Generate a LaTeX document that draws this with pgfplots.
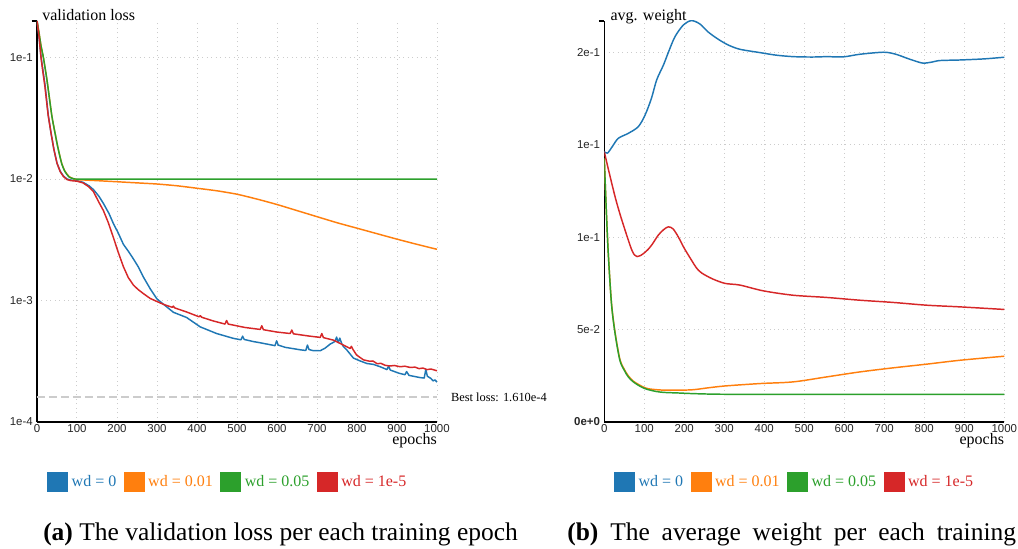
\documentclass[border=0pt]{standalone}
\usepackage{fontspec}
\setmainfont{Liberation Serif}
\newfontfamily\tickfont{Liberation Sans}
\usepackage{pgfplots}
\pgfplotsset{compat=1.18}

\definecolor{c0}{HTML}{1F77B4}
\definecolor{c1}{HTML}{FF7F0E}
\definecolor{c2}{HTML}{2CA02C}
\definecolor{c3}{HTML}{D62728}
\definecolor{gridc}{HTML}{CCCCCC}

\pgfplotsset{
  panel/.style={
    scale only axis,
    width=300pt, height=300.75pt,
    anchor=south west,
    xmin=0, xmax=1000,
    xtick={0,100,200,300,400,500,600,700,800,900,1000},
    xticklabels={0,100,200,300,400,500,600,700,800,900,1000},
    axis x line*=bottom, axis y line*=left,
    axis line style={line width=1pt, black, -},
    major tick length=0pt, minor tick length=0pt,
    xmajorgrids, ymajorgrids,
    grid style={line width=0.75pt, gridc, dash pattern=on 0.75pt off 2.6pt},
    minor grid style={line width=0.75pt, gridc, dash pattern=on 0.75pt off 2.6pt},
    tick label style={font=\tickfont\fontsize{8.6}{10}\selectfont, text=black!85},
    xticklabel style={inner sep=1.5pt},
    yticklabel style={inner sep=3pt},
    extra y tick labels={},
    extra y tick style={grid=none, major tick length=4pt, tick align=outside,
      major tick style={black, line width=1pt}},
    clip mode=individual,
    every axis plot/.append style={line width=1.1pt, line join=round},
    legend columns=4,
    legend style={draw=none, fill=none, inner sep=0pt, column sep=0pt,
      font=\fontsize{12}{14}\selectfont,
      nodes={inner xsep=2.6pt, inner ysep=0pt},
      /tikz/every even column/.append style={column sep=3pt}},
    legend image code/.code={\fill[#1, draw=none] (0pt,-7.5pt) rectangle (15.75pt,7.5pt);},
  },
}

\begin{document}
\begin{tikzpicture}[x=0.75pt,y=0.75pt]
\useasboundingbox (0,0) rectangle (1018,549);

% ---------------- validation loss ----------------
\begin{axis}[panel,
  at={(27.75pt,95.25pt)},
  ymode=log, log basis y=10,
  ymin=1e-4, ymax=0.2,
  ytick={1e-4,1e-3,1e-2,1e-1},
  yticklabels={1e-4,1e-3,1e-2,1e-1},
  extra y ticks={0.2},
  yminorgrids,
  legend style={at={(axis description cs:0.025,-0.149)}, anchor=west},
]
\addplot[c0] coordinates {
(0,0.2)(5,0.15)(10,0.102)(15,0.078)(20,0.06)(28,0.034)(35,0.024)(42,0.0177)
(50,0.0135)(58,0.0116)(66,0.0106)(75,0.0100)(85,0.0098)(100,0.0097)(115,0.0094)
(130,0.0088)(141,0.0082)(155,0.0072)(166,0.0063)(180,0.0052)(191,0.0043)
(203,0.0036)(216,0.0029)(230,0.0025)(241,0.0022)(253,0.0019)(266,0.00156)
(283,0.00125)(300,0.00103)(320,0.00091)(341,0.00080)(374,0.000725)(408,0.000607)
(449,0.000535)(491,0.000488)(510,0.000475)(514,0.000509)(518,0.000478)
(540,0.00046)(558,0.000449)(595,0.000425)(599,0.000466)(603,0.00043)
(620,0.000412)(658,0.000393)(672,0.000388)(676,0.00043)(680,0.000395)
(690,0.000387)(708,0.000386)(720,0.000405)(733,0.000438)(745,0.00046)
(749,0.000500)(753,0.00045)(757,0.00049)(762,0.00044)(766,0.000418)
(775,0.00039)(791,0.000336)(808,0.000318)(825,0.000303)(841,0.000298)
(858,0.000285)(875,0.00027)(879,0.00029)(883,0.000268)(905,0.000252)
(920,0.000245)(924,0.00026)(930,0.000242)(958,0.000232)(968,0.00023)
(972,0.000270)(976,0.000238)(985,0.000228)(990,0.000218)(995,0.000222)(1000,0.000213)
};
\addlegendentry{\textcolor{c0}{wd = 0}}
\addplot[c1, smooth, tension=0.4] coordinates {
(0,0.2)(5,0.16)(10,0.125)(16,0.1)(25,0.065)(37,0.0333)(45,0.024)(53,0.0177)
(62,0.0134)(70,0.0116)(80,0.0105)(90,0.0101)(100,0.0099)(150,0.0097)(200,0.0095)
(250,0.0093)(300,0.0091)(350,0.0088)(400,0.0084)(450,0.0080)(500,0.0075)
(550,0.00684)(600,0.00617)(650,0.0055)(700,0.0049)(750,0.00437)(800,0.00394)
(850,0.00355)(900,0.0032)(950,0.0029)(1000,0.00264)
};
\addlegendentry{\textcolor{c1}{wd = 0.01}}
\addplot[c2, smooth, tension=0.4] coordinates {
(0,0.2)(5,0.16)(10,0.125)(16,0.1)(25,0.065)(37,0.0333)(45,0.024)(53,0.0177)
(62,0.0133)(70,0.0115)(80,0.0104)(90,0.0101)(100,0.0100)(200,0.0100)(400,0.0100)
(600,0.0100)(800,0.0100)(1000,0.0100)
};
\addlegendentry{\textcolor{c2}{wd = 0.05}}
\addplot[c3] coordinates {
(0,0.2)(5,0.15)(10,0.1)(15,0.075)(20,0.057)(28,0.0333)(35,0.024)(42,0.0177)
(50,0.0135)(58,0.0115)(66,0.0105)(75,0.0099)(85,0.0097)(100,0.0096)(115,0.0093)
(128,0.0087)(141,0.0079)(153,0.0066)(166,0.0055)(178,0.0044)(191,0.0033)
(203,0.0025)(216,0.0019)(228,0.00155)(241,0.00134)(253,0.00123)(266,0.00114)
(283,0.00104)(308,0.000955)(320,0.00092)(338,0.00088)(341,0.0009)(344,0.00087)
(374,0.000805)(405,0.000735)(408,0.00075)(412,0.000728)(440,0.00068)(470,0.00064)
(474,0.000685)(478,0.00064)(520,0.0006)(558,0.000578)(562,0.00062)(566,0.000575)
(600,0.00055)(633,0.000535)(637,0.000572)(641,0.000532)(680,0.00051)(708,0.000497)
(712,0.000535)(716,0.000495)(741,0.000472)(760,0.00044)(783,0.000403)(786,0.00042)
(790,0.000395)(799,0.000356)(816,0.000325)(825,0.00032)(832,0.000316)(840,0.000318)
(850,0.000302)(860,0.000304)(870,0.000293)(883,0.000289)(893,0.000292)(908,0.000285)
(920,0.000288)(933,0.000281)(945,0.000283)(955,0.000275)(965,0.000278)(975,0.00027)
(985,0.000273)(1000,0.000264)
};
\addlegendentry{\textcolor{c3}{wd = 1e-5}}
\addplot[forget plot, gridc, line width=1.3pt, dash pattern=on 6pt off 3pt]
  coordinates {(0,1.61e-4)(1000,1.61e-4)};
\node[anchor=west, font=\fontsize{9.3}{10}\selectfont, inner sep=0pt, xshift=10.3pt]
  at (axis cs:1000,1.61e-4) {Best loss: 1.610e-4};
\node[anchor=base west, font=\fontsize{12}{14}\selectfont, inner sep=0pt, xshift=3.75pt]
  at (rel axis cs:0,1) {validation loss};
\node[anchor=base east, font=\fontsize{12}{14}\selectfont, inner sep=0pt, yshift=-17pt]
  at (rel axis cs:1,0) {epochs};
\end{axis}

% ---------------- average weight ----------------
\begin{axis}[panel,
  at={(453.2pt,95.25pt)},
  ymin=0, ymax=0.217,
  ytick={0,0.05,0.1,0.15,0.2},
  yticklabels={\textbf{0e+0},5e-2,1e-1,1e-1,2e-1},
  extra y ticks={0.217},
  legend style={at={(axis description cs:0.024,-0.149)}, anchor=west},
]
\addplot[c0, smooth, tension=0.5] coordinates {
(0,0.1463)(8,0.1455)(20,0.149)(35,0.1535)(60,0.1562)(85,0.1598)(102,0.1661)
(118,0.1752)(131,0.1851)(148,0.1932)(162,0.201)(177,0.2086)(198,0.2149)
(218,0.2172)(239,0.2154)(260,0.211)(285,0.2071)(310,0.204)(339,0.2017)
(389,0.1999)(430,0.1985)(473,0.1977)(520,0.1975)(556,0.1977)(598,0.1976)
(639,0.199)(697,0.2001)(722,0.1994)(740,0.1982)(756,0.1969)(775,0.1955)
(797,0.1942)(820,0.1948)(839,0.1956)(889,0.1959)(950,0.1965)(1000,0.1974)
};
\addlegendentry{\textcolor{c0}{wd = 0}}
\addplot[c1, smooth, tension=0.5] coordinates {
(0,0.1427)(5,0.115)(10,0.0915)(18,0.0645)(27,0.0485)(39,0.034)(50,0.0285)
(60,0.025)(72,0.0222)(85,0.0204)(97,0.0190)(110,0.018)(135,0.0174)(160,0.0172)
(218,0.0174)(260,0.0185)(302,0.0195)(389,0.0208)(472,0.0217)(556,0.0244)
(639,0.0271)(722,0.0293)(806,0.0313)(889,0.0334)(1000,0.0356)
};
\addlegendentry{\textcolor{c1}{wd = 0.01}}
\addplot[c2, smooth, tension=0.5] coordinates {
(0,0.1427)(5,0.115)(10,0.0912)(18,0.0641)(27,0.0479)(39,0.0334)(50,0.028)
(60,0.0244)(72,0.0218)(85,0.0199)(97,0.0185)(110,0.0175)(130,0.0165)(150,0.016)
(185,0.0157)(230,0.0153)(302,0.015)(500,0.0149)(750,0.0149)(1000,0.0149)
};
\addlegendentry{\textcolor{c2}{wd = 0.05}}
\addplot[c3, smooth, tension=0.5] coordinates {
(0,0.1463)(10,0.137)(27,0.1219)(40,0.112)(52,0.1038)(60,0.0985)(68,0.0935)
(75,0.0905)(82,0.0895)(90,0.0900)(100,0.0915)(110,0.0935)(120,0.0962)
(135,0.1011)(148,0.104)(160,0.1056)(172,0.1045)(185,0.1002)(200,0.094)
(218,0.0876)(230,0.0835)(243,0.0807)(270,0.0775)(302,0.075)(339,0.0741)
(397,0.071)(472,0.0686)(556,0.0674)(639,0.0659)(722,0.0647)(806,0.0632)
(889,0.0623)(1000,0.0609)
};
\addlegendentry{\textcolor{c3}{wd = 1e-5}}
\node[anchor=base west, font=\fontsize{12}{14}\selectfont, inner sep=0pt, xshift=4.5pt]
  at (rel axis cs:0,1) {avg. weight};
\node[anchor=base east, font=\fontsize{12}{14}\selectfont, inner sep=0pt, yshift=-17pt]
  at (rel axis cs:1,0) {epochs};
\end{axis}

% captions
\node[anchor=base west, inner sep=0pt, font=\fontsize{19.1}{22}\selectfont]
  at (43,8) {\textbf{(a)} The validation loss per each training epoch};
\node[anchor=base west, inner sep=0pt, font=\fontsize{19.1}{22}\selectfont]
  at (567,8) {\spaceskip=8.9pt\relax\textbf{(b)} The average weight per each training};
\end{tikzpicture}
\end{document}
